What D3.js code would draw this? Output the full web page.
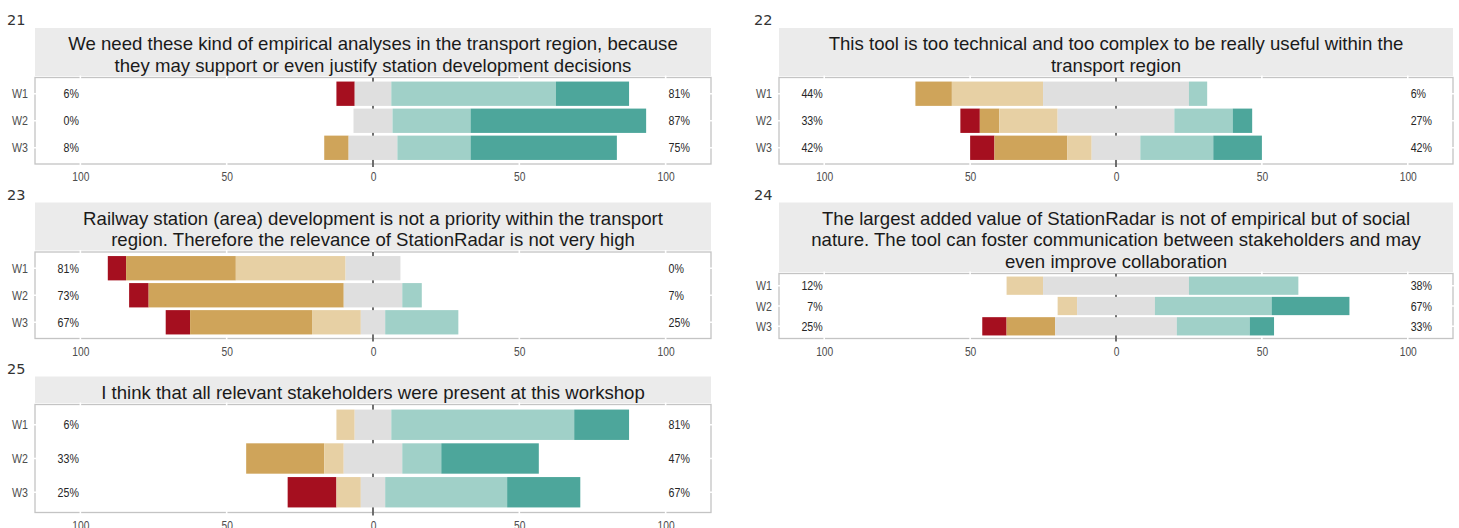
<!DOCTYPE html>
<html>
<head>
<meta charset="utf-8">
<script src="https://cdn.jsdelivr.net/npm/d3@7"></script>
<style>
  body { margin: 0; background: #fff; }
  svg { display: block; }
</style>
</head>
<body>
<script>
// Survey waves and answer levels (stacked from left to right)
const waves = ["W1", "W2", "W3"];
const levels = ["Strongly disagree", "Disagree", "Rather disagree", "Neutral", "Agree", "Strongly agree"];
const levelColors = ["#a50f1f", "#cfa45a", "#e7d0a4", "#dfdfdf", "#a0d0c8", "#4da69b"];

// Question numbers and statement titles (one entry per title line)
const questionIds = ["21", "22", "23", "24", "25"];
const questionTitles = [
  ["We need these kind of empirical analyses in the transport region, because",
   "they may support or even justify station development decisions"],
  ["This tool is too technical and too complex to be really useful within the",
   "transport region"],
  ["Railway station (area) development is not a priority within the transport",
   "region. Therefore the relevance of StationRadar is not very high"],
  ["The largest added value of StationRadar is not of empirical but of social",
   "nature. The tool can foster communication between stakeholders and may",
   "even improve collaboration"],
  ["I think that all relevant stakeholders were present at this workshop"]
];

// Percent of answers per level, one row per wave
const q21 = [
  [6.25, 0, 0, 12.5, 56.25, 25],
  [0, 0, 0, 13.33, 26.67, 60],
  [0, 8.33, 0, 16.67, 25, 50]
];
const q22 = [
  [0, 12.5, 31.25, 50, 6.25, 0],
  [6.67, 6.67, 20, 40, 20, 6.67],
  [8.33, 25, 8.33, 16.67, 25, 16.67]
];
const q23 = [
  [6.25, 37.5, 37.5, 18.75, 0, 0],
  [6.67, 66.67, 0, 20, 6.67, 0],
  [8.33, 41.67, 16.67, 8.33, 25, 0]
];
const q24 = [
  [0, 0, 12.5, 50, 37.5, 0],
  [0, 0, 6.67, 26.67, 40, 26.67],
  [8.33, 16.67, 0, 41.67, 25, 8.33]
];
const q25 = [
  [0, 0, 6.25, 12.5, 62.5, 18.75],
  [0, 26.67, 6.67, 20, 13.33, 33.33],
  [16.67, 0, 8.33, 8.33, 41.67, 25]
];
const questionValues = [q21, q22, q23, q24, q25];

// Printed totals of the disagree side and the agree side
const lowLabels = [
  ["6%", "0%", "8%"], ["44%", "33%", "42%"], ["81%", "73%", "67%"],
  ["12%", "7%", "25%"], ["6%", "33%", "25%"]
];
const highLabels = [
  ["81%", "87%", "75%"], ["6%", "27%", "42%"], ["0%", "7%", "25%"],
  ["38%", "67%", "33%"], ["81%", "47%", "67%"]
];

// Axis ticks
const tickValues = [-100, -50, 0, 50, 100];
const tickLabels = ["100", "50", "0", "50", "100"];

// Layout
const width = 1459;
const height = 528;
const cols = [
  { left: 35, right: 711, numX: 7 },
  { left: 779, right: 1453, numX: 754 }
];
const rowTops = [0, 174.5, 348.5];
const grid = [[0, 0], [1, 0], [0, 1], [1, 1], [0, 2]];
const xs = 0.82; // horizontal squeeze of the small texts
const font = "'Liberation Sans', Arial, sans-serif";

const svg = d3.select("body").append("svg")
  .attr("width", width)
  .attr("height", height);

questionIds.forEach((id, qi) => {
  const [c, r] = grid[qi];
  const col = cols[c];
  const top = rowTops[r];
  const lines = questionTitles[qi];
  const values = questionValues[qi];

  const stripTop = top + 28;
  const stripH = 5 + 21.5 * lines.length;
  const panelTop = stripTop + stripH + 1.5;
  const panelBottom = top + 164;

  const x = d3.scaleLinear().domain([-115.5, 115.5]).range([col.left, col.right]);
  const y = d3.scalePoint().domain(waves).range([panelTop, panelBottom]).padding(0.6);
  const bh = y.step() * 0.9;

  const g = svg.append("g");

  // panel number
  g.append("text")
    .attr("x", col.numX)
    .attr("y", top + 25)
    .attr("font-family", "'DejaVu Sans', sans-serif")
    .attr("font-size", 14.5)
    .attr("fill", "#333")
    .text(id);

  // strip with title
  g.append("rect")
    .attr("x", col.left)
    .attr("y", stripTop)
    .attr("width", col.right - col.left)
    .attr("height", stripH)
    .attr("fill", "#ebebeb");

  const cx = (col.left + col.right) / 2;
  lines.forEach((line, li) => {
    const base = stripTop + stripH - 4.5 - (lines.length - 1 - li) * 21.5;
    g.append("text")
      .attr("x", cx)
      .attr("y", base)
      .attr("text-anchor", "middle")
      .attr("font-family", font)
      .attr("font-size", 18.6)
      .attr("fill", "#1a1a1a")
      .text(line);
  });

  // panel border
  g.append("rect")
    .attr("x", col.left)
    .attr("y", panelTop)
    .attr("width", col.right - col.left)
    .attr("height", panelBottom - panelTop)
    .attr("fill", "#fff")
    .attr("stroke", "#c4c4c4")
    .attr("stroke-width", 1.3);

  // white grid lines that break the border
  g.selectAll(".vgrid")
    .data(tickValues)
    .join("line")
    .attr("x1", d => x(d)).attr("x2", d => x(d))
    .attr("y1", panelTop - 2).attr("y2", panelBottom + 3)
    .attr("stroke", "#fff")
    .attr("stroke-width", 1.6);

  g.selectAll(".hgrid")
    .data(waves)
    .join("line")
    .attr("x1", col.left - 3).attr("x2", col.right + 2)
    .attr("y1", d => y(d)).attr("y2", d => y(d))
    .attr("stroke", "#fff")
    .attr("stroke-width", 1.6);

  // zero line
  g.append("line")
    .attr("x1", x(0)).attr("x2", x(0))
    .attr("y1", panelTop).attr("y2", panelBottom + 3)
    .attr("stroke", "#222")
    .attr("stroke-width", 1.3);

  // stacked bars, neutral split around zero
  const segs = [];
  values.forEach((row, wi) => {
    let start = -(row[0] + row[1] + row[2] + row[3] / 2);
    row.forEach((v, li) => {
      segs.push({ wave: waves[wi], level: li, x0: start, x1: start + v });
      start += v;
    });
  });

  g.selectAll(".seg")
    .data(segs.filter(d => d.x1 > d.x0))
    .join("rect")
    .attr("class", "seg")
    .attr("x", d => x(d.x0))
    .attr("width", d => x(d.x1) - x(d.x0))
    .attr("y", d => y(d.wave) - bh / 2)
    .attr("height", bh)
    .attr("fill", d => levelColors[d.level]);

  // percent labels
  waves.forEach((w, wi) => {
    g.append("text")
      .attr("transform", `translate(${x(-100.5)},${y(w)}) scale(${xs},1)`)
      .attr("dy", "0.36em")
      .attr("text-anchor", "end")
      .attr("font-family", font)
      .attr("font-size", 13)
      .attr("fill", "#262626")
      .text(lowLabels[qi][wi]);
    g.append("text")
      .attr("transform", `translate(${x(101)},${y(w)}) scale(${xs},1)`)
      .attr("dy", "0.36em")
      .attr("text-anchor", "start")
      .attr("font-family", font)
      .attr("font-size", 13)
      .attr("fill", "#262626")
      .text(highLabels[qi][wi]);
    // wave labels
    g.append("text")
      .attr("transform", `translate(${col.left - 7},${y(w)}) scale(${xs},1)`)
      .attr("dy", "0.36em")
      .attr("text-anchor", "end")
      .attr("font-family", font)
      .attr("font-size", 13)
      .attr("fill", "#4d4d4d")
      .text(w);
  });

  // x axis
  const axis = g.append("g")
    .attr("transform", `translate(0,${panelBottom})`)
    .call(d3.axisBottom(x)
      .tickValues(tickValues)
      .tickFormat((d, i) => tickLabels[i])
      .tickSize(0)
      .tickPadding(8.6));
  axis.select(".domain").remove();
  axis.selectAll("text")
    .attr("transform", `scale(${xs},1)`)
    .attr("font-family", font)
    .attr("font-size", 12.5)
    .attr("fill", "#4d4d4d");
});
</script>
</body>
</html>
